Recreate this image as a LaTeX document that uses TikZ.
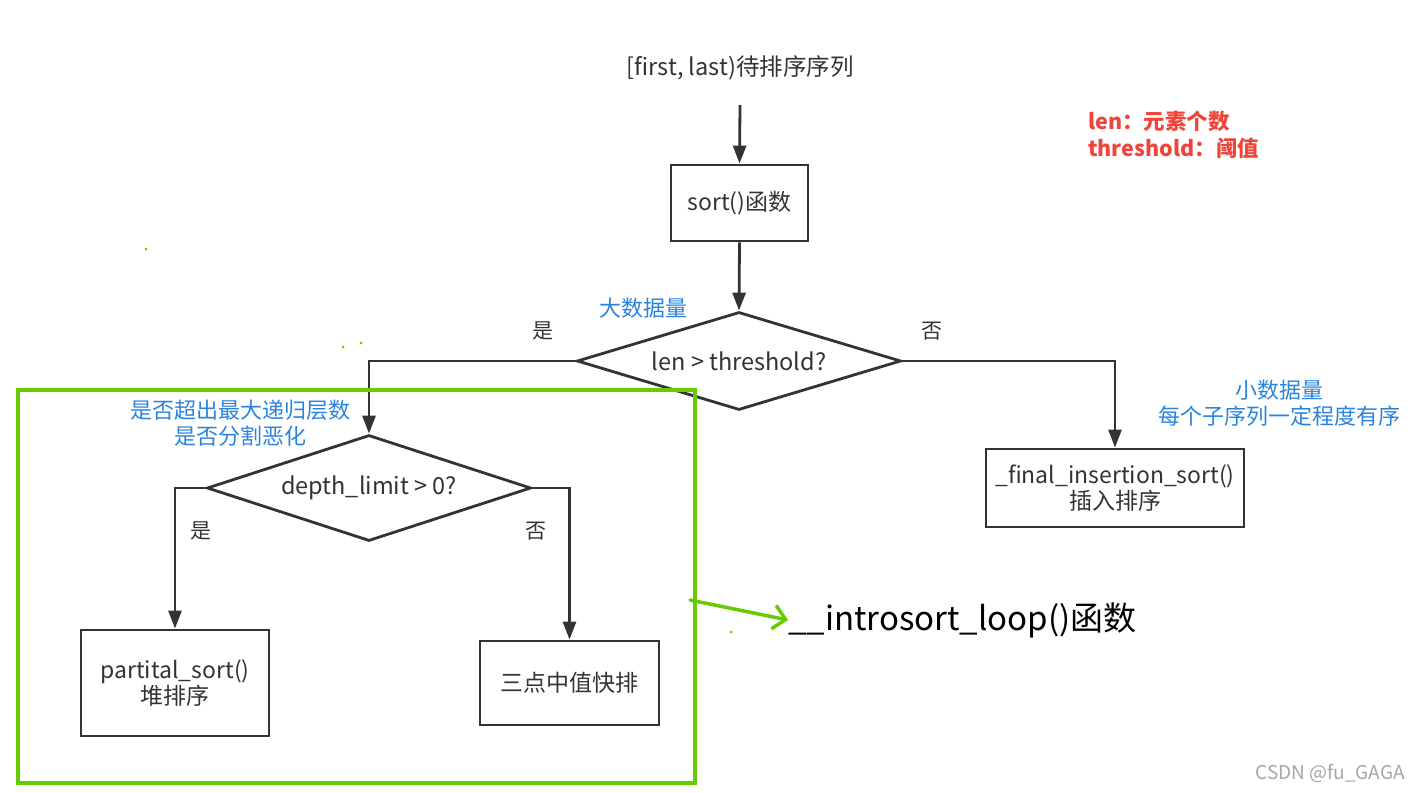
\documentclass[tikz,border=0pt]{standalone}
\usepackage{fontspec}
\setmainfont{Noto Sans CJK SC}
\newfontfamily\cjk{Noto Sans CJK SC}
\usetikzlibrary{shapes.geometric,arrows.meta}
\definecolor{lineg}{RGB}{51,51,51}
\definecolor{noteblue}{RGB}{42,132,222}
\definecolor{notered}{RGB}{240,68,58}
\definecolor{grn}{RGB}{102,204,0}
\tikzset{
  txt/.style={inner sep=0pt, font=\fontsize{23.5}{27}\selectfont, text=lineg},
  stepbox/.style={draw=lineg, line width=2.8pt, inner sep=0pt, align=center, font=\fontsize{23}{26}\selectfont, text=lineg},
  dia/.style={diamond, draw=lineg, line width=2.8pt, inner sep=0pt, aspect=3.3, font=\fontsize{23.5}{26}\selectfont, text=lineg},
  arr/.style={draw=lineg, line width=2.8pt, -{Triangle[length=18pt,width=13pt]}},
  blue/.style={inner sep=0pt, align=center, font=\fontsize{22}{26}\selectfont, text=noteblue},
  yn/.style={inner sep=0pt, font=\fontsize{21}{24}\selectfont, text=lineg},
  dot/.style={fill=grn, circle, inner sep=0pt, minimum size=3pt}
}
\begin{document}
\begin{tikzpicture}[x=1pt,y=-1pt]
\useasboundingbox (0,0) rectangle (1418,792);
% main flow
\node[txt] (in) at (740,68) {[first, last)待排序序列};
\coordinate (inb) at (740,105);
\node[stepbox, minimum width=137pt, minimum height=76pt] (sort) at (739.5,203) {sort()函数};
\node[dia, minimum width=324pt, minimum height=98pt] (d1) at (739,361) {len > threshold?};
\node[dia, minimum width=324pt, minimum height=106pt] (d2) at (369,488) {depth\_limit > 0?};
\node[stepbox, minimum width=258pt, minimum height=78pt] (fin) at (1115,488) {\_final\_insertion\_sort()\\插入排序};
\node[stepbox, minimum width=188pt, minimum height=106pt] (ps) at (175,683) {partital\_sort()\\堆排序};
\node[stepbox, minimum width=179pt, minimum height=84pt] (qs) at (569.5,683) {三点中值快排};
\draw[arr] (inb) -- (sort.north);
\draw[arr] (sort.south) -- (d1.north);
\draw[arr] (d1.west) -| (d2.north);
\draw[arr] (d1.east) -| (fin.north);
\draw[arr] (d2.west) -| (ps.north);
\draw[arr] (d2.east) -| (qs.north);
% yes/no labels
\node[yn] (y1) at (543,331) {是};
\node[yn] (n1) at (932,331) {否};
\node[yn] (y2) at (201,531) {是};
\node[yn] (n2) at (536,531) {否};
% blue notes
\node[blue] (big) at (643,308) {大数据量};
\node[blue] (depthnote) at (240,423) {是否超出最大递归层数\\是否分割恶化};
\node[blue] (small) at (1279,403) {小数据量\\每个子序列一定程度有序};
% red legend
\node[inner sep=0pt, anchor=west, align=left, font=\fontsize{21.5}{27}\selectfont\bfseries, text=notered] (legend) at (1088,135) {len：元素个数\\threshold：阈值};
% green frame and annotation
\draw[grn, line width=3.5pt] (18,390) rectangle (695,783);
\node[inner sep=0pt, anchor=west, font=\fontsize{33}{36}\selectfont, text=black] (loop) at (788,620) {\_\_introsort\_loop()函数};
\coordinate (gs) at (690,600);
\draw[grn, line width=3.5pt, line cap=round, -{Straight Barb[length=12pt,width=24pt,line width=3.5pt]}] (gs) -- (loop.west);
\node[dot] (g1) at (146,249) {};
\node[dot] (g2) at (343,347) {};
\node[dot] (g3) at (361,343) {};
\node[dot] (g4) at (731,632) {};
% watermark
\node[inner sep=0pt, font=\fontsize{19}{21}\selectfont, text=gray!70] (wm) at (1330,773) {CSDN @fu\_GAGA};
\end{tikzpicture}
\end{document}
